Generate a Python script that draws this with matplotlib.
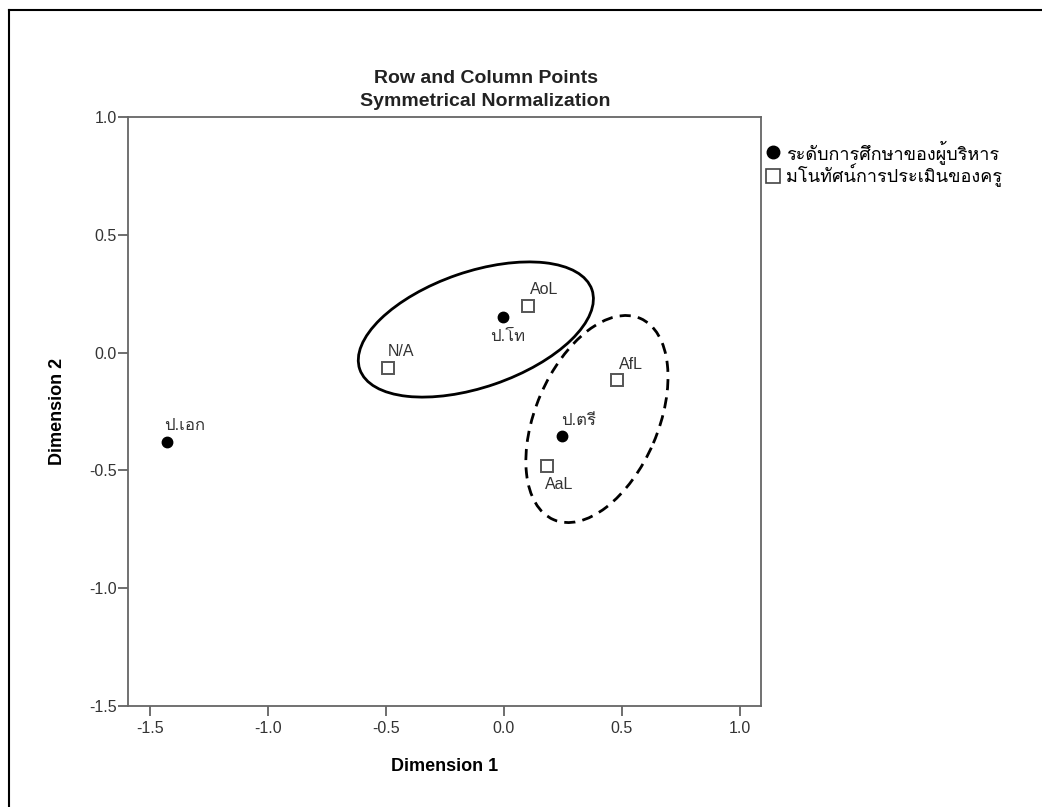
import matplotlib
matplotlib.use("Agg")
import matplotlib.pyplot as plt
from matplotlib import font_manager
from matplotlib.ft2font import FT2Font
from matplotlib.patches import Ellipse
from matplotlib.lines import Line2D


def find_thai_font():
    # look for any installed font that has Thai glyphs
    for f in font_manager.fontManager.ttflist:
        try:
            cmap = FT2Font(f.fname).get_charmap()
        except Exception:
            continue
        if 0x0E01 in cmap and 0x0E23 in cmap:
            return f.name
    return None


thai = find_thai_font()
# Latin text in Liberation Sans (has bold), Thai glyphs fall back to the Thai font
fams = ["Liberation Sans"] + ([thai] if thai else []) + ["DejaVu Sans"]
plt.rcParams["font.family"] = fams

# row points (education level of administrators)
row_labels = ["ป.เอก", "ป.โท", "ป.ตรี"]
row_x = [-1.429, -0.006, 0.244]
row_y = [-0.378, 0.150, -0.354]

# column points (teachers' assessment view)
col_labels = ["AoL", "N/A", "AfL", "AaL"]
col_x = [0.103, -0.492, 0.480, 0.181]
col_y = [0.199, -0.064, -0.116, -0.480]

legend_labels = ["ระดับการศึกษาของผู้บริหาร", "มโนทัศน์การประเมินของครู"]

# group outlines: centre x, centre y, width, height, angle
solid_group = (-0.119, 0.098, 1.04, 0.49, 19)
dashed_group = (0.394, -0.282, 0.93, 0.52, 66.8)

xticks = [-1.5, -1.0, -0.5, 0.0, 0.5, 1.0]
yticks = [-1.5, -1.0, -0.5, 0.0, 0.5, 1.0]

fig = plt.figure(figsize=(10.42, 8.07), dpi=100)
ax = fig.add_axes([0.1228, 0.1252, 0.6075, 0.7298])

ax.plot(row_x, row_y, "o", color="black", markersize=7.5, zorder=3)
ax.plot(col_x, col_y, "s", markerfacecolor="white", markeredgecolor="#555555",
        markeredgewidth=1.4, markersize=8.5, zorder=3)

# label offsets in points (SPSS puts labels above/below the marker)
row_off = [(-2, 6), (-9, -19), (0, 6)]
col_off = [(1, 6), (0, 6), (1, 6), (-1, -19)]
for lab, x, y, off in zip(row_labels, row_x, row_y, row_off):
    ax.annotate(lab, (x, y), xytext=off, textcoords="offset points",
                fontsize=12, color="#333333", ha="left", va="bottom")
for lab, x, y, off in zip(col_labels, col_x, col_y, col_off):
    ax.annotate(lab, (x, y), xytext=off, textcoords="offset points",
                fontsize=11.5, color="#333333", ha="left", va="bottom")

cx, cy, w, h, a = solid_group
ax.add_patch(Ellipse((cx, cy), w, h, angle=a, fill=False, edgecolor="black",
                     linewidth=2))
cx, cy, w, h, a = dashed_group
ax.add_patch(Ellipse((cx, cy), w, h, angle=a, fill=False, edgecolor="black",
                     linewidth=2, linestyle=(0, (4, 2.6))))

ax.set_xlim(-1.593, 1.089)
ax.set_ylim(-1.5, 1.0)
ax.set_xticks(xticks)
ax.set_yticks(yticks)
ax.set_xticklabels(["%.1f" % t for t in xticks])
ax.set_yticklabels(["%.1f" % t for t in yticks])
ax.tick_params(direction="out", length=7, width=1.2, color="#555555",
               labelcolor="#333333", labelsize=11.5)
ax.tick_params(axis="y", pad=1)
ax.tick_params(axis="x", pad=4)
for s in ax.spines.values():
    s.set_color("#666666")
    s.set_linewidth(1.3)

ax.set_xlabel("Dimension 1", fontsize=13, fontweight="bold", labelpad=16)
ax.set_ylabel("Dimension 2", fontsize=13, fontweight="bold", labelpad=17)

fig.text(0.466, 0.903, "Row and Column Points", ha="center", va="center",
         fontsize=14, fontweight="bold", color="#222222")
fig.text(0.466, 0.874, "Symmetrical Normalization", ha="center", va="center",
         fontsize=14, fontweight="bold", color="#222222")

handles = [
    Line2D([], [], marker="o", linestyle="", color="black", markersize=9),
    Line2D([], [], marker="s", linestyle="", markerfacecolor="white",
           markeredgecolor="#444444", markeredgewidth=1.2, markersize=10),
]
fig.legend(handles, legend_labels, loc="upper left",
           bbox_to_anchor=(0.728, 0.836), frameon=False, fontsize=13,
           handlelength=0.8, handletextpad=0.3, labelspacing=0.0,
           borderaxespad=0)

# page border (left and top edges)
fig.add_artist(Line2D([0.0086, 0.0086], [0.0, 0.9876], color="black",
                      linewidth=1.5, transform=fig.transFigure))
fig.add_artist(Line2D([0.0086, 1.0], [0.9876, 0.9876], color="black",
                      linewidth=1.5, transform=fig.transFigure))

fig.savefig("out.png", dpi=100)
